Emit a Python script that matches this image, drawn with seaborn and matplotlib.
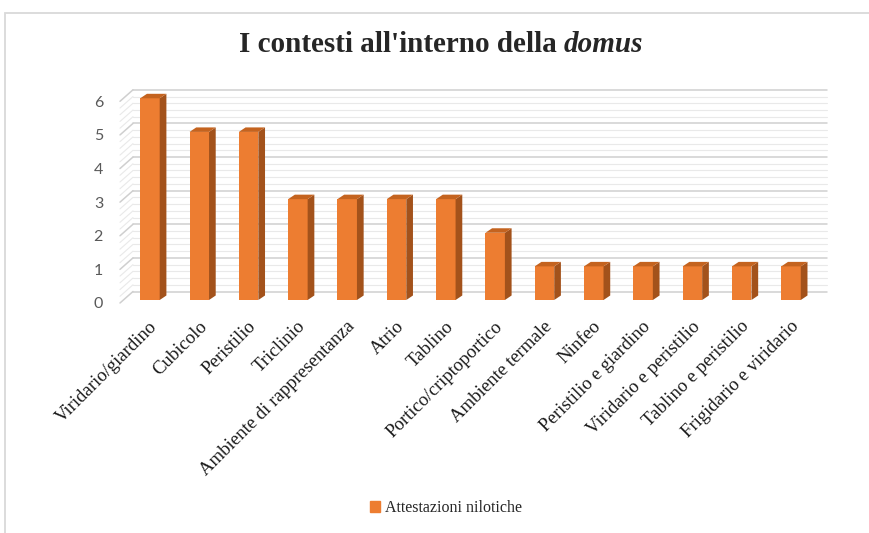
import numpy as np
import matplotlib
matplotlib.use("Agg")
import matplotlib.pyplot as plt
import matplotlib.transforms as mtransforms
from matplotlib.patches import Polygon, Rectangle, Patch
from matplotlib.lines import Line2D
import seaborn as sns

# Nilotic attestations by room type within the domus
categories = [
    "Viridario/giardino", "Cubicolo", "Peristilio", "Triclinio",
    "Ambiente di rappresentanza", "Atrio", "Tablino", "Portico/criptoportico",
    "Ambiente termale", "Ninfeo", "Peristilio e giardino",
    "Viridario e peristilio", "Tablino e peristilio", "Frigidario e viridario",
]
attestazioni = [6, 5, 5, 3, 3, 3, 3, 2, 1, 1, 1, 1, 1, 1]
y_ticks = [0, 1, 2, 3, 4, 5, 6]
series_name = "Attestazioni nilotiche"
title_main = "I contesti all'interno della"
title_italic = "domus"

FRONT = "#ED7D31"
SIDE = "#A3521B"
TOP = "#C4631F"
SERIF = "Liberation Serif"

sns.set_style("white")

W, H = 870, 533
fig = plt.figure(figsize=(W / 100, H / 100), dpi=100)
ax = fig.add_axes([125.3 / W, 233 / H, 690.4 / W, 201.7 / H])

sns.barplot(x=categories, y=attestazioni, color=FRONT, saturation=1,
            width=0.395, ax=ax, zorder=3, linewidth=0)
ax.set_xlim(-0.5, len(categories) - 0.5)
ax.set_ylim(0, 6)
ax.autoscale(False)
for s in ax.spines.values():
    s.set_visible(False)
ax.grid(False)

ident = mtransforms.IdentityTransform()
to_disp = ax.transData.transform

# back wall and left side wall of the 3D plot area
wall_dy = 8.5        # back wall sits above the bar plane (pixels)
front_dy = -3.0      # front edge of the side wall sits below the bar plane
x_side_front, x_side_back, x_back_right = 120.0, 133.0, 827.0
for v in np.round(np.arange(0, 6.001, 0.2), 2):
    major = abs(v - round(v)) < 1e-6
    col = "#cfcfcf" if major else "#e9e9e9"
    lw = 1.1 if major else 0.8
    yb = to_disp((0, v))[1]
    ax.add_artist(Line2D([x_side_back, x_back_right], [yb + wall_dy, yb + wall_dy],
                         transform=ident, color=col, lw=lw, zorder=1, clip_on=False))
    ax.add_artist(Line2D([x_side_front, x_side_back], [yb + front_dy, yb + wall_dy],
                         transform=ident, color=col, lw=lw, zorder=1, clip_on=False))

# extrude each seaborn bar into a 3D column
dx, dy = 6.7, 4.5
for p in list(ax.patches):
    x0, w, h = p.get_x(), p.get_width(), p.get_height()
    X0, Y0 = to_disp((x0, 0))
    X1, Y1 = to_disp((x0 + w, h))
    side = [(X1, Y0), (X1 + dx, Y0 + dy), (X1 + dx, Y1 + dy), (X1, Y1)]
    top = [(X0, Y1), (X1, Y1), (X1 + dx, Y1 + dy), (X0 + dx, Y1 + dy)]
    ax.add_artist(Polygon(side, closed=True, transform=ident, fc=SIDE, ec="none",
                          zorder=3, clip_on=False))
    ax.add_artist(Polygon(top, closed=True, transform=ident, fc=TOP, ec="none",
                          zorder=3, clip_on=False))

# axis labels
ax.set_yticks(y_ticks)
ax.set_yticklabels([str(t) for t in y_ticks], family="Lato", fontsize=11.5, color="#595959")
ax.tick_params(axis="y", length=0, pad=16)
ydown = mtransforms.ScaledTranslation(0, -3 / 100, fig.dpi_scale_trans)
for lab in ax.get_yticklabels():
    lab.set_transform(lab.get_transform() + ydown)
ax.set_ylabel("")
ax.set_xlabel("")
ax.set_xticks(range(len(categories)))
ax.set_xticklabels(categories, rotation=45, ha="right", rotation_mode="anchor",
                   family=SERIF, fontsize=13.5, color="#1a1a1a")
ax.tick_params(axis="x", length=0, pad=13)
shift = mtransforms.ScaledTranslation(-1 / 100, 0, fig.dpi_scale_trans)
for lab in ax.get_xticklabels():
    lab.set_transform(lab.get_transform() + shift)

# title with italic last word
renderer = fig.canvas.get_renderer()
t1 = fig.text(0, 481 / H, title_main, family=SERIF, fontsize=21, fontweight="bold",
              va="baseline", ha="left")
t2 = fig.text(0, 481 / H, title_italic, family=SERIF, fontsize=21, fontweight="bold",
              style="italic", va="baseline", ha="left")
w1 = t1.get_window_extent(renderer).width
w2 = t2.get_window_extent(renderer).width
gap = 7
start = 441 - (w1 + gap + w2) / 2
t1.set_x(start / W)
t2.set_x((start + w1 + gap) / W)

# legend
fig.legend(handles=[Patch(color=FRONT)], labels=[series_name], loc="center",
           bbox_to_anchor=(446 / W, 1 - 508 / H), frameon=False,
           prop={"family": SERIF, "size": 11.5}, handlelength=0.65, handleheight=0.65,
           handletextpad=0.35)

# chart frame
fig.add_artist(Rectangle((5 / W, -0.1), 1.2, 1 - 13 / H + 0.1, transform=fig.transFigure,
                         fill=False, ec="#d9d9d9", lw=1.3))

fig.savefig("out.png", dpi=100)
